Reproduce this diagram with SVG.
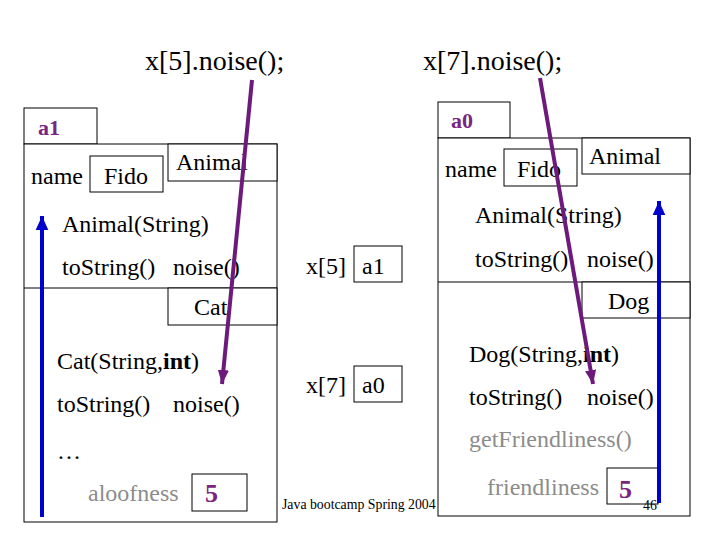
<svg xmlns="http://www.w3.org/2000/svg" width="720" height="540" viewBox="0 0 720 540">
<style>
text{font-family:'Liberation Serif','DejaVu Serif',serif;font-size:24px;fill:#000}
.big{font-size:28px}
.tab{font-weight:bold;fill:#7a2582;font-size:22px}
.five{font-weight:bold;fill:#7a2582;font-size:26px}
.gray{fill:#8c8c8c}
.small{font-size:13.8px}
.box{fill:#fff;stroke:#000;stroke-width:1}
.purple{stroke:#6e1a7c;stroke-width:4;fill:none}
.blue{stroke:#0000cc;stroke-width:4;fill:none}
</style>
<defs>
<marker id="ap" markerUnits="userSpaceOnUse" markerWidth="14" markerHeight="14" refX="10" refY="5" orient="auto" viewBox="0 0 10 10"><path d="M0,1 L10,5 L0,9 Z" fill="#6e1a7c"/></marker>
<marker id="ab" markerUnits="userSpaceOnUse" markerWidth="14" markerHeight="14" refX="10" refY="5" orient="auto" viewBox="0 0 10 10"><path d="M0,0.5 L10,5 L0,9.5 Z" fill="#0000cc"/></marker>
</defs>
<rect width="720" height="540" fill="#fff"/>
<g id="calls">
<text class="big" x="145" y="70">x[5].noise();</text>
<text class="big" x="423" y="70">x[7].noise();</text>
</g>
<g id="obj-a1">
<rect class="box" x="24" y="108" width="73" height="36"/>
<text class="tab" x="38" y="135">a1</text>
<rect class="box" x="24" y="144" width="253" height="378"/>
<rect class="box" x="168" y="144" width="109" height="37"/>
<text x="176" y="170">Animal</text>
<text x="31" y="184">name</text>
<rect class="box" x="90" y="156" width="73" height="36"/>
<text x="104" y="184">Fido</text>
<text x="62" y="232">Animal(String)</text>
<text x="62" y="275">toString()</text>
<text x="173" y="275">noise()</text>
<line x1="24" y1="288" x2="277" y2="288" stroke="#000"/>
<rect class="box" x="168" y="288" width="109" height="37"/>
<text x="194" y="315">Cat</text>
<text x="57" y="369">Cat(String,<tspan font-weight="bold">int</tspan>)</text>
<text x="57" y="412">toString()</text>
<text x="173" y="412">noise()</text>
<text x="57" y="459">…</text>
<text class="gray" x="88" y="501">aloofness</text>
<rect class="box" x="192" y="474" width="55" height="37"/>
<text class="five" x="205" y="502">5</text>
</g>
<g id="array">
<text x="306" y="274">x[5]</text>
<rect class="box" x="354" y="246" width="48" height="36"/>
<text x="362" y="274">a1</text>
<text x="306" y="393">x[7]</text>
<rect class="box" x="354" y="366" width="48" height="36"/>
<text x="362" y="393">a0</text>
</g>
<g id="obj-a0">
<rect class="box" x="438" y="102" width="72" height="36"/>
<text class="tab" x="451" y="128">a0</text>
<rect class="box" x="438" y="138" width="252" height="378"/>
<rect class="box" x="582" y="138" width="108" height="36"/>
<text x="589" y="164">Animal</text>
<text x="445" y="177">name</text>
<rect class="box" x="504" y="149" width="73" height="37"/>
<text x="517" y="177">Fido</text>
<text x="475" y="223">Animal(String)</text>
<text x="475" y="267">toString()</text>
<text x="587" y="267">noise()</text>
<line x1="438" y1="282" x2="690" y2="282" stroke="#000"/>
<rect class="box" x="582" y="282" width="108" height="36"/>
<text x="608" y="309">Dog</text>
<text x="469" y="362">Dog(String,<tspan font-weight="bold">int</tspan>)</text>
<text x="469" y="405">toString()</text>
<text x="587" y="405">noise()</text>
<text class="gray" x="469" y="447">getFriendliness()</text>
<text class="gray" x="487" y="495">friendliness</text>
<rect class="box" x="607" y="468" width="51" height="36"/>
<text class="five" x="619" y="498">5</text>
</g>
<g id="footer">
<text class="small" x="282" y="509">Java bootcamp Spring 2004</text>
<text class="small" x="643" y="510">46</text>
</g>
<g id="connectors">
<line class="purple" x1="252" y1="80" x2="222" y2="384" marker-end="url(#ap)"/>
<line class="purple" x1="540" y1="78" x2="593" y2="384" marker-end="url(#ap)"/>
<line class="blue" x1="42" y1="517" x2="42" y2="216" marker-end="url(#ab)"/>
<line class="blue" x1="659" y1="503" x2="659" y2="201" marker-end="url(#ab)"/>
</g>
</svg>
